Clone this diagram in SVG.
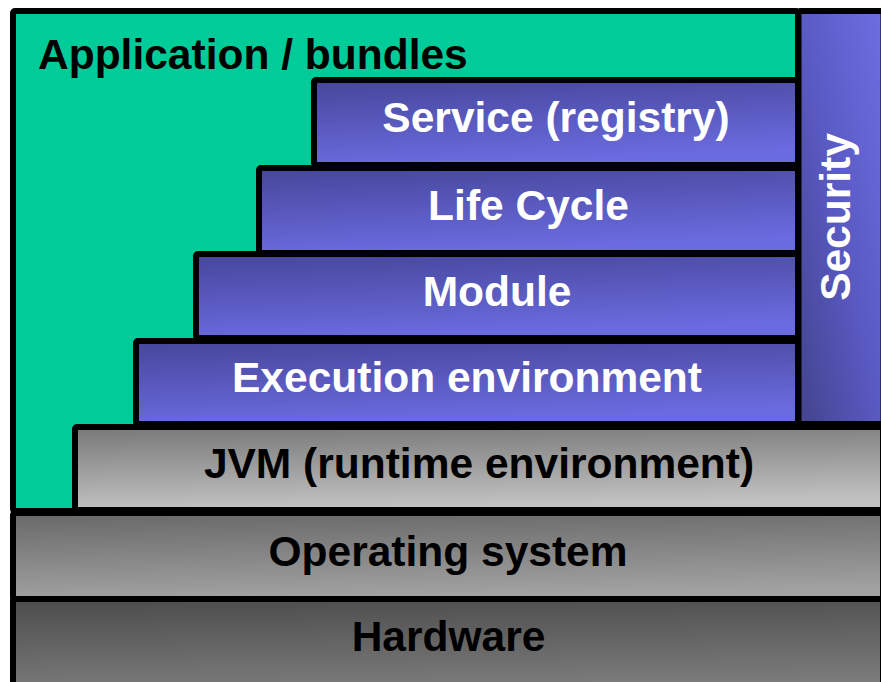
<svg xmlns="http://www.w3.org/2000/svg" width="881" height="682" viewBox="0 0 881 682">
<defs>
<linearGradient id="gBlue" x1="0" y1="0" x2="0.25" y2="1">
<stop offset="0" stop-color="#46469a"/>
<stop offset="1" stop-color="#6b6be0"/>
</linearGradient>
<linearGradient id="gSec" x1="0" y1="1" x2="1" y2="0">
<stop offset="0" stop-color="#43438c"/>
<stop offset="0.5" stop-color="#5a5ac4"/>
<stop offset="1" stop-color="#6e6ee2"/>
</linearGradient>
<linearGradient id="gJvm" x1="0" y1="0" x2="0.15" y2="1">
<stop offset="0" stop-color="#787878"/>
<stop offset="1" stop-color="#c2c2c2"/>
</linearGradient>
<linearGradient id="gOs" x1="0" y1="0" x2="0.15" y2="1">
<stop offset="0" stop-color="#686868"/>
<stop offset="1" stop-color="#a2a2a2"/>
</linearGradient>
<linearGradient id="gHw" x1="0" y1="0" x2="0.15" y2="1">
<stop offset="0" stop-color="#4c4c4c"/>
<stop offset="1" stop-color="#7a7a7a"/>
</linearGradient>
</defs>
<style>
.box{stroke:#000;stroke-width:6;stroke-linejoin:round}
.t{font-family:"Liberation Sans",Arial,sans-serif;font-weight:bold;font-size:42.5px;text-anchor:middle}
.w{fill:#fff}
.k{fill:#000}
</style>
<rect width="881" height="682" fill="#fff"/>
<g id="application">
<rect class="box" x="13" y="11" width="785" height="500" rx="2" fill="#00cc99"/>
<text class="t k" x="38" y="69" style="text-anchor:start">Application / bundles</text>
</g>
<g id="security">
<rect class="box" x="798.5" y="11" width="85" height="413" rx="2" fill="url(#gSec)"/>
<text class="t w" transform="translate(850,217) rotate(-90)">Security</text>
</g>
<g id="service">
<rect class="box" x="314" y="80" width="484" height="85" rx="2" fill="url(#gBlue)"/>
<text class="t w" x="556" y="132">Service (registry)</text>
</g>
<g id="lifecycle">
<rect class="box" x="259" y="168" width="539" height="85" rx="2" fill="url(#gBlue)"/>
<text class="t w" x="528.5" y="220">Life Cycle</text>
</g>
<g id="module">
<rect class="box" x="196" y="254" width="602" height="84" rx="2" fill="url(#gBlue)"/>
<text class="t w" x="497" y="305.5">Module</text>
</g>
<g id="execution">
<rect class="box" x="136" y="341" width="662" height="83" rx="2" fill="url(#gBlue)"/>
<text class="t w" x="467" y="392">Execution environment</text>
</g>
<g id="jvm">
<rect class="box" x="75" y="427" width="808" height="83" rx="2" fill="url(#gJvm)"/>
<text class="t k" x="479" y="478">JVM (runtime environment)</text>
</g>
<g id="os">
<rect class="box" x="13" y="513" width="870" height="87" rx="2" fill="url(#gOs)"/>
<text class="t k" x="448" y="566">Operating system</text>
</g>
<g id="hardware">
<rect class="box" x="13" y="599" width="870" height="90" rx="2" fill="url(#gHw)"/>
<text class="t k" x="448.5" y="650.5">Hardware</text>
</g>
<g id="connectors"/>
</svg>
